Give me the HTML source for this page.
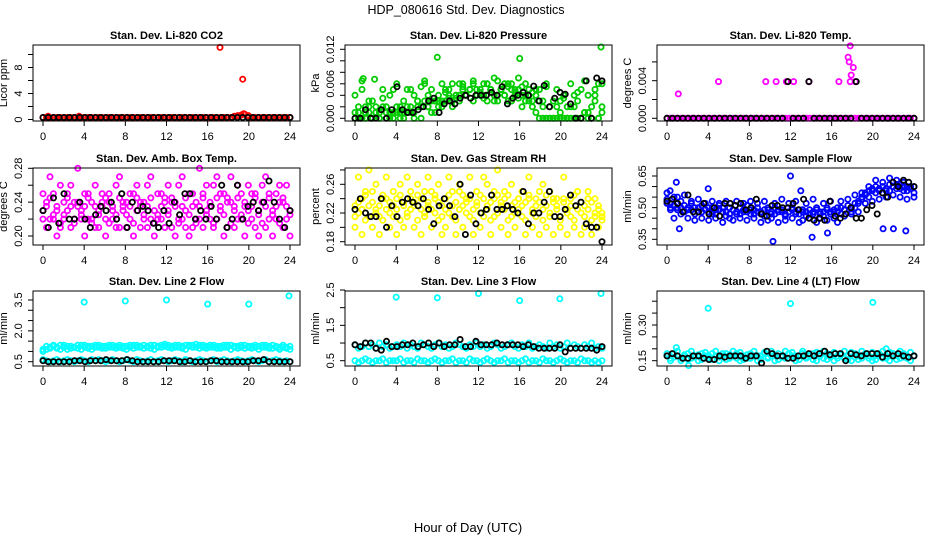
<!DOCTYPE html>
<html><head><meta charset="utf-8">
<style>
html,body{margin:0;padding:0;background:#fff;}
svg{display:block;font-family:"Liberation Sans",Arial,sans-serif;}
.t{font-size:11px;fill:#000;}
.pt{font-size:11px;font-weight:bold;fill:#000;}
</style></head>
<body>
<svg id="chart" width="936" height="540" viewBox="0 0 936 540" xmlns="http://www.w3.org/2000/svg">
<text x="466" y="14" text-anchor="middle" style="font-size:12.5px">HDP_080616  Std. Dev. Diagnostics</text>
<text x="468" y="532" text-anchor="middle" style="font-size:13px">Hour of Day (UTC)</text>
</svg>
<script>
// ---------- data ----------
const xTicks = [0,4,8,12,16,20,24];
// Panel 1: Li-820 CO2 (ppm)
const co2Color = [0.3,0.3,0.3,0.3,0.3,0.3,0.3,0.3,0.3,0.3,0.3,0.3,0.3,0.3,0.3,0.3,0.3,0.3,0.3,0.3,0.3,0.3,0.3,0.3,0.3,0.3,0.3,0.3,0.3,0.3,0.3,0.3,0.3,0.3,0.3,0.3,0.3,0.3,0.3,0.3,0.3,0.3,0.3,0.3,0.3,0.3,0.3,0.3,0.3,0.3,0.3,0.3,0.3,0.3,0.3,0.5,0.6,0.7,0.8,0.6,0.3,0.3,0.3,0.3,0.3,0.3,0.3,0.3,0.3,0.3,0.3,0.3];
const co2Black = [0.3,0.3,0.3,0.3,0.3,0.3,0.3,0.3,0.3,0.3,0.3,0.3,0.3,0.3,0.3,0.3,0.3,0.3,0.3,0.3,0.3,0.3,0.3,0.3,0.3,0.3,0.3,0.3,0.3,0.3,0.3,0.3,0.3,0.3,0.3,0.3,0.3,0.3,0.3,0.3,0.3,0.3,0.3,0.3,0.3,0.3,0.3,0.3];
const co2OutHours = [17.2,19.4,19.5,0.5,3.5];
const co2OutVals = [11.1,6.2,0.9,0.5,0.5];
// Panel 2: Li-820 Pressure (kPa)
const presColor1 = [0,0.002,0,0.001,0.003,0,0.001,0,0.002,0,0.004,0.001, 0.001,0.002,0.003,0.001,0.002,0.004,0.003,0.002,0.003,0.004,0.005,0.003, 0.004,0.003,0.005,0.004,0.003,0.004,0.006,0.005,0.004,0.005,0.006,0.005, 0.005,0.004,0.006,0.005,0.004,0.003,0.005,0.004,0.006,0.003,0.004,0.005, 0.004,0.003,0.005,0.002,0.004,0.003,0.002,0,0,0.003,0,0.001, 0,0.002,0,0.004,0.003,0,0.001,0,0.002,0.005,0,0.001];
const presColor2 = [0.004,0.001,0.005,0.002,0.001,0.003,0.002,0.001,0.005,0.002,0.001,0, 0.006,0.001,0,0.002,0.005,0.001,0.003,0,0.006,0.002,0.003,0.001, 0.002,0.006,0.003,0.005,0.002,0.004,0.003,0.006,0.004,0.005,0.003,0.004, 0.004,0.006,0.003,0.005,0.007,0.004,0.005,0.006,0.003,0.006,0.005,0.007, 0.002,0.006,0.004,0.003,0.001,0.005,0.003,0.006,0.002,0,0.005,0.003, 0.004,0,0.006,0.002,0,0.005,0.001,0.004,0,0.003,0.006,0.002];
const presColor3 = [0.001,0,0.0065,0,0.002,0,0.001,0,0.0035,0.001,0,0.005, 0.002,0,0.001,0.005,0.001,0,0.002,0.0055,0.0065,0.002,0.001,0.003, 0.003,0.002,0.0045,0.0035,0.006,0.0035,0.004,0.0055,0.004,0.005,0.0065,0.004, 0.0045,0.0035,0.006,0.0045,0.003,0.0065,0.005,0.004,0.0055,0.005,0.0045,0.0035, 0.0055,0.004,0.003,0.0045,0.005,0,0,0.0055,0,0,0.002,0, 0.0035,0,0.002,0,0.0045,0,0.0065,0.001,0,0.004,0,0.006];
const presBlack = [0,0,0.0015,0,0,0.0015,0,0.0015,0.0055,0.0015,0.001,0.001, 0.0015,0.002,0.003,0.0035,0.001,0.0025,0.003,0.0025,0.0035,0.004,0.0035,0.004, 0.004,0.004,0.0045,0.004,0.0055,0.0025,0.0035,0.004,0.0045,0.004,0.0056,0.003, 0.0057,0.002,0.0035,0.0045,0.0042,0.0025,0,0,0.0065,0,0.007,0.0065];
const presOutHours = [8,16,23.9,0.8,1.9];
const presOutVals = [0.0106,0.0104,0.0124,0.0069,0.0068];
// Panel 3: Li-820 Temp (deg C)
const tempColor = [0,0,0,0,0,0,0,0,0,0,0,0,0,0,0,0,0,0,0,0,0,0,0,0,0,0,0,0,0,0,0,0,0,0,0,0,0,0,0,0,0,0,0,0,0,0,0,0,0,0,0,0,0,0,0,0,0,0,0,0,0,0,0,0,0,0,0,0,0,0,0,0];
const tempBlack = [0,0,0,0,0,0,0,0,0,0,0,0,0,0,0,0,0,0,0,0,0,0,0,0.0039,0,0,0,0.0039,0,0,0,0,0,0,0,0,0.0039,0,0,0,0,0,0,0,0,0,0,0];
const tempOutHours = [1.1,5,9.6,10.6,11.6,12.3,13.8,16.7,17.6,17.7,17.8,17.9,18.1,17.8,18.3];
const tempOutVals = [0.0026,0.0039,0.0039,0.0039,0.0039,0.0039,0.0039,0.0039,0.0065,0.006,0.0077,0.0046,0.0054,0.0039,0.0039];
// Panel 4: Amb. Box Temp (deg C)
const boxColor1 = [0.23,0.24,0.22,0.25,0.23,0.21,0.24,0.23,0.26,0.22,0.24,0.23, 0.25,0.22,0.24,0.21,0.23,0.25,0.22,0.24,0.23,0.26,0.21,0.23, 0.24,0.22,0.25,0.23,0.21,0.24,0.26,0.22,0.23,0.25,0.22,0.24, 0.23,0.21,0.24,0.26,0.22,0.23,0.25,0.21,0.24,0.22,0.25,0.23, 0.24,0.26,0.22,0.23,0.25,0.21,0.24,0.23,0.26,0.22,0.24,0.23, 0.22,0.25,0.23,0.24,0.21,0.25,0.23,0.22,0.26,0.24,0.22,0.23];
const boxColor2 = [0.25,0.21,0.27,0.22,0.2,0.26,0.22,0.25,0.21,0.24,0.28,0.22, 0.2,0.25,0.22,0.26,0.21,0.24,0.2,0.25,0.22,0.21,0.27,0.24, 0.21,0.25,0.2,0.26,0.24,0.22,0.21,0.27,0.2,0.22,0.25,0.21, 0.26,0.24,0.2,0.22,0.27,0.21,0.2,0.25,0.22,0.28,0.21,0.26, 0.22,0.21,0.27,0.25,0.2,0.24,0.27,0.21,0.22,0.25,0.2,0.26, 0.25,0.21,0.2,0.26,0.27,0.22,0.2,0.25,0.24,0.21,0.26,0.2];
const boxColor3 = [0.22,0.235,0.245,0.225,0.235,0.215,0.225,0.245,0.235,0.215,0.235,0.225, 0.235,0.245,0.215,0.235,0.225,0.235,0.245,0.215,0.235,0.225,0.245,0.235, 0.225,0.235,0.215,0.245,0.235,0.225,0.235,0.245,0.215,0.225,0.235,0.245, 0.225,0.245,0.235,0.215,0.235,0.245,0.225,0.235,0.215,0.235,0.245,0.225, 0.235,0.215,0.245,0.235,0.225,0.245,0.215,0.235,0.245,0.225,0.235,0.215, 0.235,0.245,0.225,0.215,0.235,0.245,0.225,0.235,0.215,0.245,0.235,0.225];
const boxBlack = [0.23,0.21,0.245,0.215,0.25,0.22,0.22,0.24,0.22,0.21,0.225,0.235, 0.23,0.24,0.22,0.25,0.21,0.24,0.23,0.235,0.23,0.215,0.21,0.23, 0.215,0.24,0.225,0.25,0.25,0.22,0.23,0.22,0.235,0.22,0.26,0.21, 0.22,0.26,0.22,0.235,0.24,0.23,0.24,0.265,0.24,0.22,0.21,0.23];
// Panel 5: Gas Stream RH (percent)
const rhColor1 = [0.23,0.22,0.24,0.21,0.23,0.25,0.22,0.23,0.21,0.24,0.22,0.23, 0.24,0.21,0.23,0.22,0.25,0.23,0.21,0.24,0.22,0.23,0.25,0.22, 0.21,0.23,0.24,0.22,0.23,0.21,0.25,0.23,0.22,0.24,0.21,0.23, 0.22,0.24,0.23,0.21,0.25,0.22,0.23,0.24,0.21,0.23,0.22,0.24, 0.23,0.21,0.24,0.22,0.23,0.25,0.21,0.23,0.22,0.24,0.23,0.21, 0.24,0.22,0.23,0.21,0.25,0.22,0.23,0.24,0.21,0.22,0.23,0.22];
const rhColor2 = [0.2,0.27,0.19,0.25,0.28,0.2,0.26,0.19,0.24,0.27,0.2,0.25, 0.19,0.26,0.2,0.27,0.24,0.2,0.26,0.19,0.25,0.27,0.2,0.24, 0.26,0.19,0.2,0.27,0.25,0.19,0.26,0.2,0.24,0.27,0.19,0.25, 0.2,0.27,0.26,0.19,0.24,0.28,0.2,0.25,0.19,0.26,0.2,0.24, 0.25,0.19,0.27,0.2,0.24,0.19,0.26,0.2,0.25,0.19,0.24,0.2, 0.27,0.19,0.24,0.2,0.25,0.19,0.2,0.25,0.19,0.24,0.2,0.21];
const rhColor3 = [0.215,0.235,0.225,0.245,0.215,0.235,0.225,0.215,0.245,0.225,0.235,0.215, 0.225,0.245,0.235,0.215,0.225,0.235,0.245,0.225,0.215,0.235,0.225,0.245, 0.235,0.215,0.225,0.245,0.215,0.235,0.225,0.245,0.235,0.215,0.225,0.235, 0.245,0.215,0.225,0.235,0.215,0.245,0.235,0.225,0.245,0.215,0.235,0.225, 0.215,0.235,0.245,0.225,0.215,0.235,0.225,0.245,0.215,0.235,0.225,0.215, 0.235,0.225,0.215,0.245,0.225,0.235,0.215,0.225,0.235,0.215,0.225,0.215];
const rhBlack = [0.225,0.24,0.22,0.215,0.215,0.24,0.2,0.23,0.215,0.235,0.24,0.235, 0.23,0.24,0.225,0.205,0.23,0.24,0.23,0.215,0.26,0.19,0.245,0.205, 0.22,0.225,0.245,0.225,0.225,0.23,0.225,0.22,0.25,0.205,0.22,0.22, 0.235,0.25,0.215,0.215,0.225,0.245,0.23,0.235,0.205,0.2,0.2,0.18];
// Panel 6: Sample Flow (ml/min)
const flowColor1 = [0.54,0.52,0.55,0.5,0.53,0.51,0.49,0.52,0.5,0.48,0.51,0.49, 0.5,0.47,0.49,0.51,0.48,0.46,0.5,0.49,0.47,0.5,0.48,0.51, 0.49,0.47,0.5,0.48,0.46,0.49,0.47,0.5,0.48,0.49,0.46,0.48, 0.5,0.47,0.49,0.48,0.46,0.49,0.47,0.5,0.48,0.46,0.49,0.47, 0.48,0.5,0.47,0.49,0.51,0.48,0.5,0.52,0.54,0.56,0.55,0.58, 0.57,0.59,0.6,0.58,0.61,0.6,0.59,0.61,0.58,0.6,0.59,0.57];
const flowColor2 = [0.57,0.49,0.45,0.55,0.47,0.56,0.45,0.53,0.44,0.54,0.45,0.52, 0.44,0.53,0.45,0.52,0.43,0.53,0.45,0.44,0.53,0.45,0.52,0.44, 0.53,0.45,0.52,0.43,0.53,0.44,0.45,0.52,0.43,0.54,0.44,0.52, 0.45,0.53,0.43,0.44,0.52,0.45,0.54,0.43,0.45,0.52,0.44,0.53, 0.45,0.43,0.53,0.46,0.54,0.47,0.56,0.48,0.57,0.52,0.6,0.53, 0.63,0.54,0.62,0.55,0.64,0.56,0.63,0.55,0.62,0.54,0.6,0.55];
const flowColor3 = [0.52,0.5,0.51,0.49,0.5,0.48,0.5,0.49,0.47,0.5,0.48,0.49, 0.48,0.5,0.47,0.49,0.5,0.48,0.47,0.49,0.48,0.47,0.49,0.48, 0.47,0.49,0.48,0.47,0.49,0.5,0.48,0.47,0.49,0.48,0.47,0.48, 0.49,0.48,0.47,0.49,0.48,0.47,0.48,0.49,0.47,0.48,0.5,0.48, 0.49,0.48,0.5,0.49,0.51,0.5,0.52,0.53,0.55,0.57,0.58,0.59, 0.6,0.58,0.6,0.59,0.58,0.6,0.61,0.59,0.6,0.58,0.59,0.6];
const flowBlack = [0.53,0.54,0.52,0.48,0.56,0.48,0.48,0.52,0.47,0.5,0.46,0.52, 0.52,0.51,0.52,0.49,0.5,0.54,0.47,0.46,0.51,0.51,0.5,0.5, 0.52,0.49,0.54,0.45,0.44,0.45,0.44,0.53,0.46,0.45,0.47,0.5, 0.45,0.45,0.49,0.51,0.47,0.57,0.55,0.62,0.6,0.63,0.62,0.6];
const flowOutHours = [0.9,1.2,4,10.3,12,14.1,15.6,21,22,23.2,13,0.3];
const flowOutVals = [0.62,0.4,0.59,0.34,0.65,0.36,0.38,0.4,0.4,0.39,0.58,0.58];
// Panel 7: Line 2 Flow (ml/min)
const l2Upper = [1.0,1.1,1.2,1.25,1.15,1.3,1.2,1.1,1.25,1.2,1.15,1.3, 1.2,1.25,1.1,1.3,1.2,1.15,1.25,1.2,1.3,1.15,1.2,1.25, 1.1,1.2,1.3,1.2,1.25,1.15,1.2,1.3,1.1,1.25,1.2,1.35, 1.2,1.15,1.3,1.2,1.25,1.1,1.3,1.2,1.35,1.15,1.2,1.25, 1.3,1.2,1.15,1.25,1.2,1.3,1.1,1.2,1.25,1.3,1.15,1.2, 1.25,1.2,1.1,1.3,1.2,1.25,1.15,1.2,1.1,1.2,1.15,1.25];
const l2Upper2 = [1.1,1.25,1.15,1.3,1.2,1.1,1.3,1.25,1.15,1.2,1.3,1.1, 1.3,1.15,1.25,1.2,1.3,1.25,1.15,1.3,1.2,1.25,1.3,1.15, 1.25,1.3,1.15,1.3,1.2,1.3,1.25,1.15,1.3,1.2,1.3,1.25, 1.3,1.25,1.2,1.3,1.15,1.3,1.25,1.3,1.2,1.3,1.3,1.15, 1.2,1.3,1.25,1.15,1.3,1.2,1.3,1.25,1.15,1.2,1.3,1.25, 1.15,1.3,1.25,1.2,1.3,1.15,1.3,1.25,1.2,1.3,1.2,1.1];
const l2Lower = [0.6,0.55,0.5,0.55,0.6,0.5,0.55,0.6,0.55,0.5,0.55,0.6, 0.55,0.5,0.6,0.55,0.6,0.55,0.5,0.55,0.6,0.55,0.5,0.55, 0.6,0.55,0.5,0.6,0.55,0.5,0.55,0.6,0.5,0.55,0.6,0.55, 0.5,0.55,0.6,0.55,0.5,0.6,0.55,0.5,0.55,0.6,0.55,0.5, 0.55,0.6,0.5,0.55,0.6,0.55,0.5,0.55,0.6,0.55,0.5,0.55, 0.6,0.55,0.5,0.55,0.6,0.5,0.55,0.6,0.55,0.5,0.55,0.5];
const l2Black = [0.55,0.5,0.5,0.5,0.5,0.5,0.55,0.55,0.5,0.55,0.55,0.55, 0.6,0.55,0.55,0.55,0.6,0.55,0.5,0.5,0.5,0.5,0.5,0.55, 0.55,0.55,0.5,0.5,0.55,0.5,0.5,0.5,0.55,0.55,0.5,0.5, 0.5,0.5,0.5,0.5,0.55,0.55,0.6,0.5,0.5,0.5,0.5,0.5];
const l2OutHours = [4,8,12,16,20,23.9];
const l2OutVals = [3.4,3.45,3.5,3.3,3.3,3.7];
// Panel 8: Line 3 Flow (ml/min)
const l3Upper = [0.95,0.85,0.9,1.0,0.9,0.95,0.85,1.0,0.9,0.95,0.85,0.9, 0.95,0.9,1.0,0.85,0.95,0.9,0.85,1.0,0.95,0.9,0.85,0.95, 1.0,0.9,0.95,0.85,0.9,1.0,0.95,0.9,0.85,0.95,0.9,1.0, 0.9,0.95,0.85,0.9,1.0,0.95,0.85,0.9,0.95,1.0,0.9,0.85, 0.95,0.9,1.0,0.85,0.9,0.95,0.9,0.85,1.0,0.9,0.95,0.85, 0.9,1.0,0.85,0.95,0.9,0.85,0.95,0.9,1.0,0.85,0.9,0.85];
const l3Lower = [0.5,0.45,0.5,0.55,0.5,0.45,0.5,0.5,0.55,0.45,0.5,0.5, 0.5,0.55,0.45,0.5,0.5,0.45,0.55,0.5,0.5,0.45,0.5,0.55, 0.5,0.45,0.5,0.5,0.55,0.45,0.5,0.5,0.45,0.55,0.5,0.5, 0.45,0.5,0.55,0.5,0.45,0.5,0.5,0.55,0.45,0.5,0.5,0.45, 0.5,0.55,0.45,0.5,0.5,0.45,0.55,0.5,0.5,0.45,0.5,0.55, 0.5,0.45,0.5,0.5,0.45,0.55,0.5,0.5,0.45,0.5,0.45,0.5];
const l3Black = [0.95,0.9,1.0,1.0,0.85,0.8,1.05,0.9,0.9,0.95,0.95,1.0, 0.9,0.95,1.0,0.9,1.0,0.9,0.95,0.95,1.1,0.9,0.9,1.05, 0.95,0.95,0.95,1.0,0.95,0.95,0.95,0.95,0.9,0.95,0.9,0.85, 0.85,0.85,0.85,0.95,0.75,0.85,0.85,0.85,0.85,0.85,0.8,0.9];
const l3OutHours = [4,8,12,16,19.9,23.9];
const l3OutVals = [2.3,2.28,2.4,2.2,2.25,2.4];
// Panel 9: Line 4 (LT) Flow (ml/min)
const l4Color1 = [0.17,0.16,0.18,0.17,0.15,0.17,0.18,0.16,0.17,0.15,0.18,0.17, 0.16,0.18,0.17,0.15,0.17,0.18,0.16,0.17,0.18,0.15,0.17,0.16, 0.18,0.17,0.15,0.17,0.18,0.16,0.17,0.15,0.18,0.17,0.16,0.18, 0.17,0.15,0.17,0.18,0.16,0.17,0.18,0.15,0.17,0.16,0.18,0.17, 0.15,0.17,0.18,0.16,0.17,0.15,0.18,0.17,0.16,0.18,0.17,0.15, 0.17,0.18,0.16,0.17,0.15,0.18,0.17,0.16,0.18,0.17,0.15,0.17];
const l4Color2 = [0.18,0.15,0.165,0.19,0.16,0.175,0.155,0.19,0.165,0.175,0.155,0.185, 0.17,0.155,0.19,0.165,0.18,0.155,0.175,0.19,0.16,0.185,0.155,0.175, 0.16,0.19,0.17,0.155,0.185,0.165,0.19,0.175,0.155,0.165,0.19,0.16, 0.185,0.17,0.155,0.19,0.165,0.175,0.155,0.185,0.17,0.19,0.155,0.165, 0.185,0.16,0.175,0.19,0.155,0.185,0.165,0.155,0.19,0.17,0.16,0.185, 0.155,0.175,0.19,0.16,0.185,0.17,0.155,0.19,0.165,0.16,0.185,0.17];
const l4Black = [0.17,0.18,0.17,0.16,0.16,0.17,0.17,0.16,0.155,0.155,0.17,0.165, 0.17,0.17,0.17,0.16,0.17,0.17,0.14,0.19,0.18,0.17,0.17,0.16, 0.16,0.17,0.17,0.18,0.17,0.18,0.19,0.175,0.18,0.18,0.15,0.18,0.175,0.17, 0.18,0.18,0.18,0.165,0.18,0.17,0.18,0.17,0.165,0.17];
const l4OutHours = [4,12,20,0.9,2.1,21.3];
const l4OutVals = [0.37,0.39,0.395,0.205,0.13,0.2];

// ---------- drawing ----------
const svg = document.getElementById('chart');
const NS = 'http://www.w3.org/2000/svg';
function mk(tag, attrs, parent){
  const e = document.createElementNS(NS, tag);
  for (const k in attrs) e.setAttribute(k, attrs[k]);
  (parent||svg).appendChild(e);
  return e;
}
function spread(n){ const h=[]; for(let i=0;i<n;i++) h.push(24*i/(n-1)); return h; }

function panel(cfg){
  const L = cfg.left, T = cfg.top, B = cfg.bottom, W = 267;
  const g = mk('g', {});
  
  
  const xs = h => L + 10 + h * (247/24);
  const ys = v => cfg.y0px + (v - cfg.y0) * (cfg.y1px - cfg.y0px) / (cfg.y1 - cfg.y0);
  const t = mk('text', {x: L + W/2, y: T - 6, 'text-anchor':'middle', class:'pt'}, g);
  
  
  t.textContent = cfg.title;
  const pts = mk('g', {fill:'none','stroke-width':1.8}, g);
  
  
  cfg.series.forEach(s => {
    const hrs = s.hours || spread(s.values.length);
    s.values.forEach((v, i) => {
      const c = mk('circle', {cx: xs(hrs[i]).toFixed(1), cy: ys(v).toFixed(1), r: 2.6, stroke: s.color}, pts);
      
      
    });
  });
  const box = mk('rect', {x: L, y: T, width: W, height: B - T, fill:'none', stroke:'#000', 'stroke-width':1}, g);
  
  
  const xa = mk('g', {}, g);
  
  
  mk('line', {x1: xs(0), x2: xs(24), y1: B, y2: B, stroke:'#000'}, xa);
  xTicks.forEach(h => {
    mk('line', {x1: xs(h), x2: xs(h), y1: B, y2: B + 5, stroke:'#000'}, xa);
    const tl = mk('text', {x: xs(h), y: B + 19, 'text-anchor':'middle', class:'t'}, xa);
    
    
    tl.textContent = h;
  });
  const ya = mk('g', {}, g);
  
  
  const yt = cfg.ticks;
  mk('line', {x1: L, x2: L, y1: ys(yt[0]), y2: ys(yt[yt.length-1]), stroke:'#000'}, ya);
  yt.forEach(v => {
    const y = ys(v);
    mk('line', {x1: L - 5, x2: L, y1: y, y2: y, stroke:'#000'}, ya);
  });
  cfg.labels.forEach((lab, i) => {
    const y = ys(cfg.labelVals[i]);
    const tl = mk('text', {x: L - 11, y: y, 'text-anchor':'middle', class:'t', transform:`rotate(-90 ${L-11} ${y})`}, ya);
    
    
    tl.textContent = lab;
  });
  const my = (T + B) / 2;
  const yl = mk('text', {x: L - 26, y: my, 'text-anchor':'middle', class:'t', transform:`rotate(-90 ${L-26} ${my})`}, ya);
  
  
  yl.textContent = cfg.ylab;
}

const C1 = 33, C2 = 345, C3 = 657;
const R1 = [45,121], R2 = [168,245], R3 = [291,366];

panel({name:'panel-co2', title:'Stan. Dev. Li-820 CO2', ylab:'Licor ppm', left:C1, top:R1[0], bottom:R1[1],
  y0:0, y0px:119.5, y1:8, y1px:67.5, ticks:[0,2,4,6,8,10], labels:['0','4','8'], labelVals:[0,4,8],
  series:[{values:co2Color,color:'#ff0000'},{hours:co2OutHours,values:co2OutVals,color:'#ff0000'},{values:co2Black,color:'#000'}]});
panel({name:'panel-pressure', title:'Stan. Dev. Li-820 Pressure', ylab:'kPa', left:C2, top:R1[0], bottom:R1[1],
  y0:0, y0px:118.3, y1:0.012, y1px:49.3, ticks:[0,0.002,0.004,0.006,0.008,0.010,0.012], labels:['0.000','0.006','0.012'], labelVals:[0,0.006,0.012],
  series:[{values:presColor1,color:'#00cc00'},{values:presColor2,color:'#00cc00'},{values:presColor3,color:'#00cc00'},{hours:presOutHours,values:presOutVals,color:'#00cc00'},{values:presBlack,color:'#000'}]});
panel({name:'panel-li820-temp', title:'Stan. Dev. Li-820 Temp.', ylab:'degrees C', left:C3, top:R1[0], bottom:R1[1],
  y0:0, y0px:118.3, y1:0.004, y1px:80.7, ticks:[0,0.002,0.004,0.006], labels:['0.000','0.004'], labelVals:[0,0.004],
  series:[{values:tempColor,color:'#ff00ff'},{hours:tempOutHours,values:tempOutVals,color:'#ff00ff'},{values:tempBlack,color:'#000'}]});
panel({name:'panel-box-temp', title:'Stan. Dev. Amb. Box Temp.', ylab:'degrees C', left:C1, top:R2[0], bottom:R2[1],
  y0:0.20, y0px:236, y1:0.28, y1px:168.3, ticks:[0.20,0.22,0.24,0.26,0.28], labels:['0.20','0.24','0.28'], labelVals:[0.20,0.24,0.28],
  series:[{values:boxColor1,color:'#ff00ff'},{values:boxColor2,color:'#ff00ff'},{values:boxColor3,color:'#ff00ff'},{values:boxBlack,color:'#000'}]});
panel({name:'panel-gas-rh', title:'Stan. Dev. Gas Stream RH', ylab:'percent', left:C2, top:R2[0], bottom:R2[1],
  y0:0.18, y0px:241.7, y1:0.26, y1px:184.3, ticks:[0.18,0.20,0.22,0.24,0.26,0.28], labels:['0.18','0.22','0.26'], labelVals:[0.18,0.22,0.26],
  series:[{values:rhColor1,color:'#ffff00'},{values:rhColor2,color:'#ffff00'},{values:rhColor3,color:'#ffff00'},{values:rhBlack,color:'#000'}]});
panel({name:'panel-sample-flow', title:'Stan. Dev. Sample Flow', ylab:'ml/min', left:C3, top:R2[0], bottom:R2[1],
  y0:0.35, y0px:239.3, y1:0.65, y1px:176, ticks:[0.35,0.40,0.45,0.50,0.55,0.60,0.65], labels:['0.35','0.50','0.65'], labelVals:[0.35,0.50,0.65],
  series:[{values:flowColor1,color:'#0000ff'},{values:flowColor2,color:'#0000ff'},{values:flowColor3,color:'#0000ff'},{hours:flowOutHours,values:flowOutVals,color:'#0000ff'},{values:flowBlack,color:'#000'}]});
panel({name:'panel-line2-flow', title:'Stan. Dev. Line 2 Flow', ylab:'ml/min', left:C1, top:R3[0], bottom:R3[1],
  y0:0.5, y0px:361.7, y1:3.5, y1px:300, ticks:[0.5,1.0,1.5,2.0,2.5,3.0,3.5], labels:['0.5','2.0','3.5'], labelVals:[0.5,2.0,3.5],
  series:[{values:l2Upper,color:'#00ffff'},{values:l2Upper2,color:'#00ffff'},{values:l2Lower,color:'#00ffff'},{hours:l2OutHours,values:l2OutVals,color:'#00ffff'},{values:l2Black,color:'#000'}]});
panel({name:'panel-line3-flow', title:'Stan. Dev. Line 3 Flow', ylab:'ml/min', left:C2, top:R3[0], bottom:R3[1],
  y0:0.5, y0px:360.7, y1:2.5, y1px:290, ticks:[0.5,1.0,1.5,2.0,2.5], labels:['0.5','1.5','2.5'], labelVals:[0.5,1.5,2.5],
  series:[{values:l3Upper,color:'#00ffff'},{values:l3Lower,color:'#00ffff'},{hours:l3OutHours,values:l3OutVals,color:'#00ffff'},{values:l3Black,color:'#000'}]});
panel({name:'panel-line4-flow', title:'Stan. Dev. Line 4 (LT) Flow', ylab:'ml/min', left:C3, top:R3[0], bottom:R3[1],
  y0:0.15, y0px:360.7, y1:0.30, y1px:325, ticks:[0.15,0.20,0.25,0.30,0.35,0.40], labels:['0.15','0.30'], labelVals:[0.15,0.30],
  series:[{values:l4Color1,color:'#00ffff'},{values:l4Color2,color:'#00ffff'},{hours:l4OutHours,values:l4OutVals,color:'#00ffff'},{values:l4Black,color:'#000'}]});
</script>
</body></html>
